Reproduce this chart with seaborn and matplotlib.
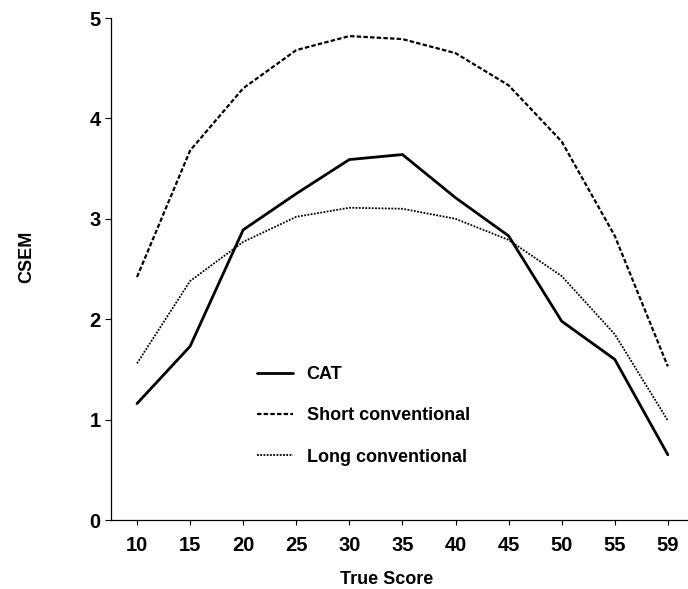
import matplotlib
matplotlib.use('Agg')
import matplotlib.pyplot as plt
import seaborn as sns
import pandas as pd

# values
true_scores = ['10', '15', '20', '25', '30', '35', '40', '45', '50', '55', '59']
cat_csem = [1.16, 1.73, 2.89, 3.25, 3.59, 3.64, 3.21, 2.83, 1.98, 1.60, 0.65]
short_csem = [2.42, 3.68, 4.30, 4.68, 4.82, 4.79, 4.65, 4.33, 3.77, 2.83, 1.53]
long_csem = [1.56, 2.38, 2.77, 3.02, 3.11, 3.10, 3.00, 2.79, 2.43, 1.85, 0.99]
series_names = ['CAT', 'Short conventional', 'Long conventional']

df = pd.DataFrame({
    'True Score': true_scores * 3,
    'CSEM': cat_csem + short_csem + long_csem,
    'series': [s for s in series_names for _ in true_scores],
})

sns.set_style('white')
plt.rcParams['font.family'] = ['Liberation Sans', 'DejaVu Sans']
plt.rcParams['font.weight'] = 'bold'
for key in ['text.color', 'axes.labelcolor', 'xtick.color', 'ytick.color']:
    plt.rcParams[key] = 'black'

fig = plt.figure(figsize=(6.88, 5.89), dpi=100)
ax = fig.add_axes([111 / 688, 1 - 520 / 589, 1 - 111 / 688, (520 - 18) / 589])

sns.lineplot(data=df, x='True Score', y='CSEM', style='series', size='series',
             hue='series', palette={s: 'black' for s in series_names},
             sizes={'CAT': 2.0, 'Short conventional': 1.6, 'Long conventional': 1.3},
             dashes={'CAT': '', 'Short conventional': (2, 1), 'Long conventional': (1, 0.8)},
             style_order=series_names, hue_order=series_names, size_order=series_names,
             sort=False, ax=ax)

ax.set_ylim(0, 5)
ax.set_xlim(-0.49, 10.38)
ax.set_yticks([0, 1, 2, 3, 4, 5])
sns.despine(ax=ax)
for sp in ['left', 'bottom']:
    ax.spines[sp].set_linewidth(0.9)
    ax.spines[sp].set_color('black')

ax.tick_params(axis='y', direction='out', length=4.5, width=0.8, pad=3, labelsize=14.5, left=True)
ax.tick_params(axis='x', direction='out', length=3.5, width=0.8, pad=8, labelsize=14.5, bottom=True)
for lab in ax.get_xticklabels() + ax.get_yticklabels():
    lab.set_fontweight('bold')

ax.set_xlabel('True Score', fontsize=13, fontweight='bold')
ax.set_ylabel('CSEM', fontsize=13, fontweight='bold')
ax.xaxis.set_label_coords(0.478, -0.102)
ax.yaxis.set_label_coords(-0.132, 0.524)

handles, labels = ax.get_legend_handles_labels()
ax.legend(handles, labels, loc='upper left', bbox_to_anchor=(257 / 688, 1 - 366 / 589),
          bbox_transform=fig.transFigure, frameon=False, borderpad=0, borderaxespad=0,
          handlelength=2.0, handletextpad=0.75, labelspacing=1.35,
          prop={'size': 13, 'weight': 'bold'})

fig.savefig('out.png', dpi=100)
